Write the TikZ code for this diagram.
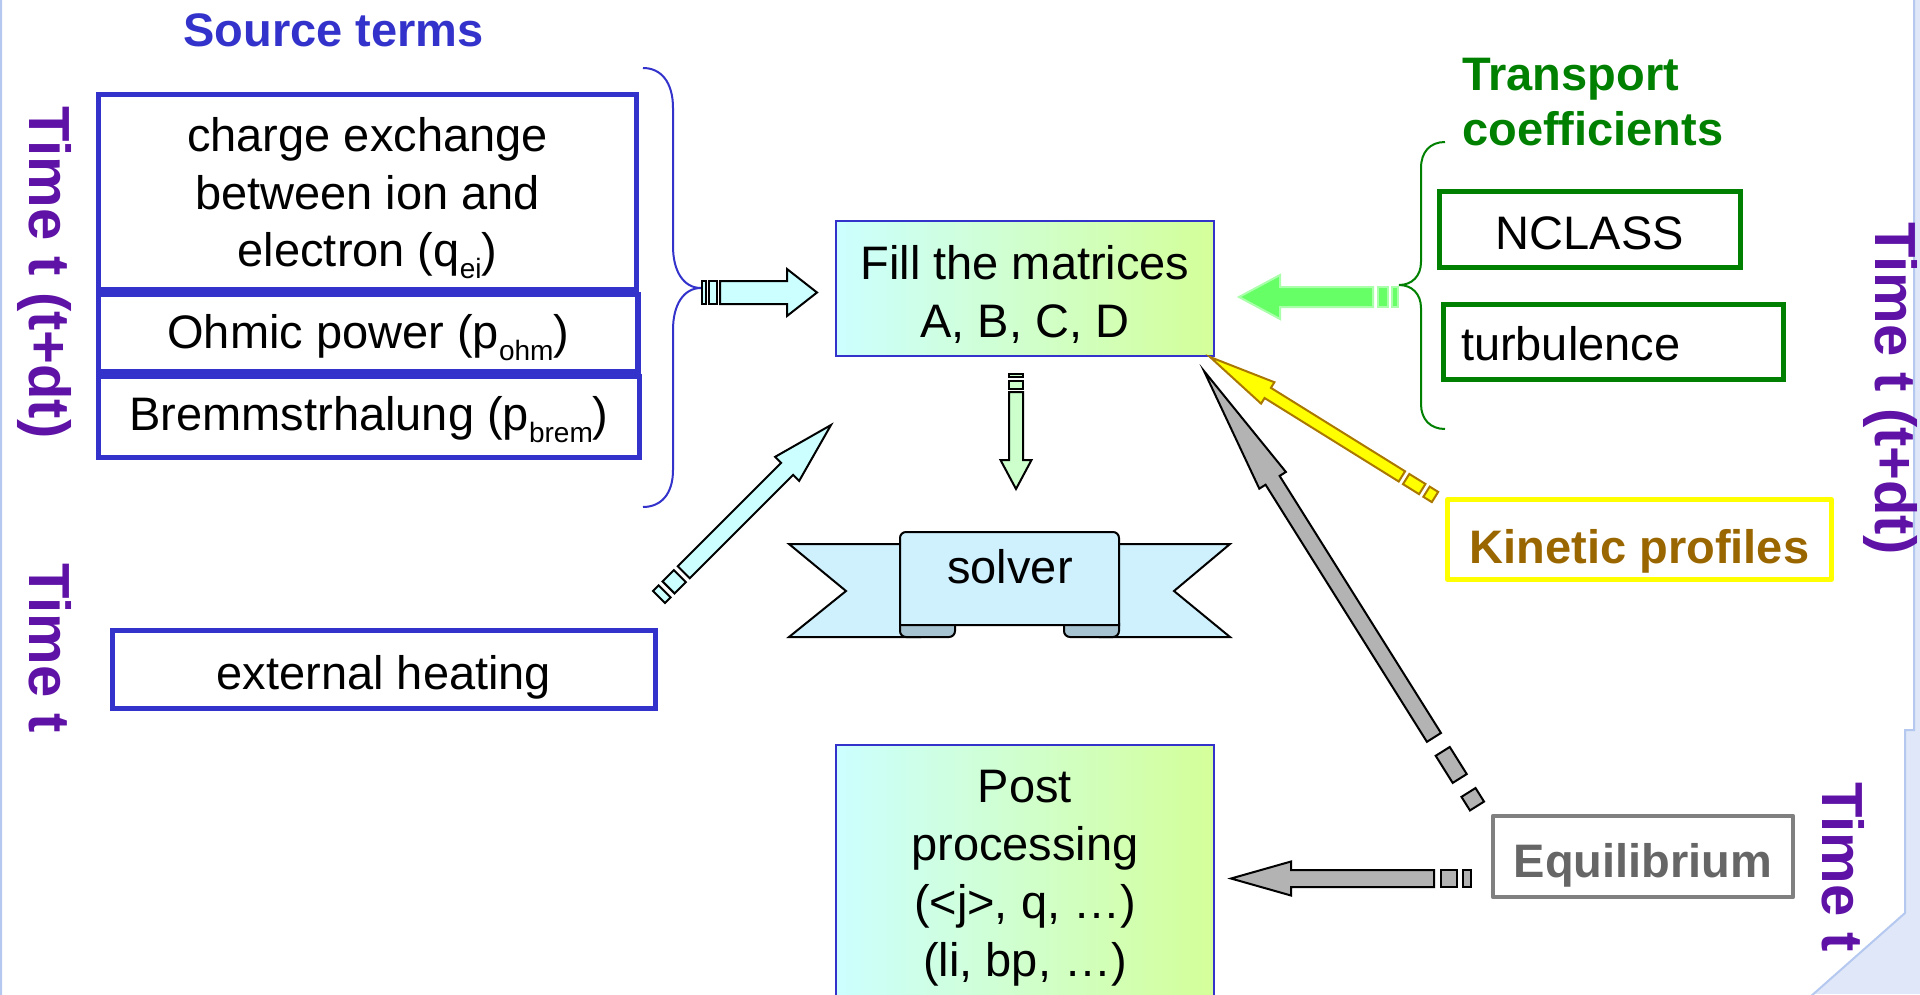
\documentclass[tikz,border=0pt]{standalone}
\usepackage{fontspec}
\setmainfont{Liberation Sans}
\usetikzlibrary{calc}
\definecolor{stblue}{RGB}{51,51,204}
\definecolor{tgreen}{RGB}{0,128,0}
\definecolor{kbrown}{RGB}{153,102,0}
\definecolor{eqgray}{RGB}{102,102,102}
\definecolor{eqborder}{RGB}{128,128,128}
\definecolor{tpurple}{RGB}{94,18,166}
\definecolor{kyellow}{RGB}{255,255,0}
\definecolor{ydark}{RGB}{170,120,0}
\definecolor{cyanfill}{RGB}{204,255,255}
\definecolor{lgreenfill}{RGB}{204,255,204}
\definecolor{brightgreen}{RGB}{102,255,102}
\definecolor{palegreen}{RGB}{170,255,170}
\definecolor{grayfill}{RGB}{179,179,179}
\definecolor{solverfill}{RGB}{207,240,253}
\definecolor{curlfill}{RGB}{166,195,209}
\definecolor{gradL}{RGB}{204,255,255}
\definecolor{gradR}{RGB}{212,255,153}
\definecolor{pagebg}{RGB}{223,231,248}
\definecolor{pageedge}{RGB}{180,200,240}
\newcommand\subx[1]{\raisebox{-12pt}{\fontsize{28}{28}\selectfont #1}}
\newdimen\arrdx \newdimen\arrdy
% [style]{tail}{tip}{bar1}{bar2}{gap}{shaft half}{head half}{head length}
\newcommand\blockarrow[9][]{%
  \pgfextractx{\arrdx}{\pgfpointdiff{\pgfpointanchor{#2}{center}}{\pgfpointanchor{#3}{center}}}%
  \pgfextracty{\arrdy}{\pgfpointdiff{\pgfpointanchor{#2}{center}}{\pgfpointanchor{#3}{center}}}%
  \pgfmathsetmacro\arrang{atan2(\arrdy,\arrdx)}%
  \pgfmathsetmacro\arrlen{veclen(\arrdx,\arrdy)}%
  \pgfmathsetmacro\arrA{#4}%
  \pgfmathsetmacro\arrB{#4+#6}%
  \pgfmathsetmacro\arrC{#4+#6+#5}%
  \pgfmathsetmacro\arrD{#4+2*#6+#5}%
  \pgfmathsetmacro\arrE{\arrlen-#9}%
  \begin{scope}[shift={(#2)}, rotate=\arrang, x=1pt, y=1pt]
    \filldraw[#1] (0,-#7) rectangle (\arrA,#7);
    \filldraw[#1] (\arrB,-#7) rectangle (\arrC,#7);
    \filldraw[#1] (\arrD,-#7) -- (\arrE,-#7) -- (\arrE,-#8) -- (\arrlen,0) -- (\arrE,#8) -- (\arrE,#7) -- (\arrD,#7) -- cycle;
  \end{scope}}
\tikzset{
  txt/.style={font=\fontsize{47}{57.5}\selectfont},
  boldtxt/.style={font=\fontsize{47}{55}\selectfont\bfseries},
  bluebox/.style={draw=stblue, line width=5.5pt, anchor=base, inner sep=0pt, align=center, txt},
  greenbox/.style={draw=tgreen, line width=5pt, anchor=base, inner sep=0pt, txt},
  gradbox/.style={draw=stblue, line width=1.5pt, left color=gradL, right color=gradR, anchor=base, inner sep=0pt, align=center, font=\fontsize{47}{58}\selectfont},
  timelbl/.style={rotate=-90, anchor=base west, inner sep=0pt, text=tpurple, font=\fontsize{58}{58}\selectfont\bfseries},
  cyanarrow/.style={fill=cyanfill, draw=black, line width=2pt},
  downarrow/.style={fill=lgreenfill, draw=black, line width=2pt},
  greenarrow/.style={fill=brightgreen, draw=palegreen, line width=2pt},
  grayarrow/.style={fill=grayfill, draw=black, line width=2pt},
  yellowarrow/.style={fill=kyellow, draw=ydark, line width=2pt},
  bracestyle/.style={line width=2pt},
}
\begin{document}
\begin{tikzpicture}[x=1pt, y=-1pt]
\useasboundingbox (0,0) rectangle (1920,994);
% page background
\fill[pagebg] (0,0) rectangle (1920,994);
\filldraw[fill=white, draw=pageedge, line width=2pt] (1,-3) -- (1914,-3) -- (1914,730) -- (1905,730) -- (1905,913) -- (1810,997) -- (1,997) -- cycle;

% headings
\node[boldtxt, text=stblue, anchor=base, inner sep=0pt] (src) at (333.5,46.5) {Source terms};
\node[boldtxt, text=tgreen, anchor=base west, align=left, inner sep=0pt] (tc) at (1462,145) {Transport\\coefficients};

% time labels
\node[timelbl] (tl1) at (29,106) {Time t (t+dt)};
\node[timelbl] (tl2) at (29,563) {Time t};
\node[timelbl] (tl3) at (1875,222) {Time t (t+dt)};
\node[timelbl] (tl4) at (1822,782) {Time t};

% source term boxes
\node[bluebox, minimum width=538pt, text height=172pt, text depth=23pt] (cx) at (367.5,266.5) {charge exchange\\between ion and\\electron (q\subx{ei})};
\node[bluebox, minimum width=539.5pt, text height=53.5pt, text depth=23.5pt] (ohm) at (368.25,348) {Ohmic power (p\subx{ohm})};
\node[bluebox, minimum width=541pt, text height=53.5pt, text depth=27.5pt] (brem) at (369,430) {Bremmstrhalung (p\subx{brem})};
\node[bluebox, minimum width=543pt, text height=58.5pt, text depth=19.5pt] (ext) at (384,689) {external heating};

% braces
\draw[stblue, bracestyle] (643,68) .. controls (661,68) and (673,82) .. (673,108) -- (673,246) .. controls (673,272) and (684,288) .. (701,288) .. controls (684,288) and (673,304) .. (673,330) -- (673,470) .. controls (673,494) and (661,507) .. (643,507);
\draw[tgreen, bracestyle] (1445,142) .. controls (1430,142) and (1421,152) .. (1421,168) -- (1421,262) .. controls (1421,276) and (1412,285) .. (1399,285) .. controls (1412,285) and (1421,294) .. (1421,308) -- (1421,404) .. controls (1421,419) and (1430,429) .. (1445,429);

% transport boxes
\node[greenbox, minimum width=301pt, text height=57.5pt, text depth=18.5pt] (ncl) at (1590,249) {NCLASS};
\node[greenbox, text width=305pt, inner xsep=17.5pt, align=left, text height=55.5pt, text depth=19.5pt] (turb) at (1613.5,360) {turbulence};

% kinetic and equilibrium
\node[draw=kyellow, line width=5pt, line join=round, boldtxt, text=kbrown, minimum width=384pt, text height=63.5pt, text depth=16.5pt, anchor=base, inner sep=0pt] (kin) at (1639.5,563) {Kinetic profiles};
\node[draw=eqborder, line width=4.5pt, line join=round, boldtxt, text=eqgray, minimum width=300pt, text height=61pt, text depth=20pt, anchor=base, inner sep=0pt] (equil) at (1643,877) {Equilibrium};

% central boxes
\node[gradbox, minimum width=378pt, text height=116pt, text depth=19pt] (fill) at (1025,337) {Fill the matrices\\A, B, C, D};
\node[gradbox, minimum width=378pt, text height=231pt, text depth=20pt] (post) at (1025,976) {Post\\processing\\(<j>, q, …)\\(li, bp, …)};

% solver banner
\filldraw[fill=solverfill, draw=black, line width=2pt, line join=miter] (789,544) -- (920,544) -- (920,637) -- (789,637) -- (846,591) -- cycle;
\filldraw[fill=solverfill, draw=black, line width=2pt, line join=miter] (1230,544) -- (1100,544) -- (1100,637) -- (1230,637) -- (1174,591) -- cycle;
\filldraw[fill=curlfill, draw=black, line width=2pt, rounded corners=6pt] (900,617) rectangle (955,637);
\filldraw[fill=curlfill, draw=black, line width=2pt, rounded corners=6pt] (1064,617) rectangle (1119,637);
\filldraw[fill=solverfill, draw=black, line width=2pt] (900,625) -- (900,538) [rounded corners=6pt] -- (900,532) -- (1119,532) [sharp corners] -- (1119,538) -- (1119,625) -- cycle;
\node[txt, anchor=base, inner sep=0pt] (solver) at (1010,583) {solver};

% block arrows
\coordinate (a1t) at (702,292.5);  \coordinate (a1h) at (817,292.5);
\coordinate (a2t) at (1016,374);   \coordinate (a2h) at (1016,489);
\coordinate (a3t) at (1398,297);   \coordinate (a3h) at (1239,297);
\coordinate (a4t) at (1471,878.5); \coordinate (a4h) at (1231,878.5);
\coordinate (a5t) at (659,597);    \coordinate (a5h) at (831,425);
\coordinate (a6t) at (1435,497);   \coordinate (a6h) at (1210,357);
\coordinate (a7t) at (1477,806);   \coordinate (a7h) at (1204,371);
\blockarrow[cyanarrow]{a1t}{a1h}{4}{8}{3}{11.5}{23.5}{30}
\blockarrow[downarrow]{a2t}{a2h}{3}{8}{3.5}{7}{15.5}{29}
\blockarrow[greenarrow]{a3t}{a3h}{6}{10}{4.5}{10}{22}{41}
\blockarrow[grayarrow]{a4t}{a4h}{8}{16}{6.5}{8.5}{17}{60}
\blockarrow[cyanarrow]{a5t}{a5h}{8}{16}{5.5}{8.5}{17}{62}
\blockarrow[yellowarrow]{a6t}{a6h}{10}{19}{5}{6}{12.6}{68}
\blockarrow[grayarrow]{a7t}{a7h}{16}{32}{16.5}{8.3}{15.7}{129}
\end{tikzpicture}
\end{document}
